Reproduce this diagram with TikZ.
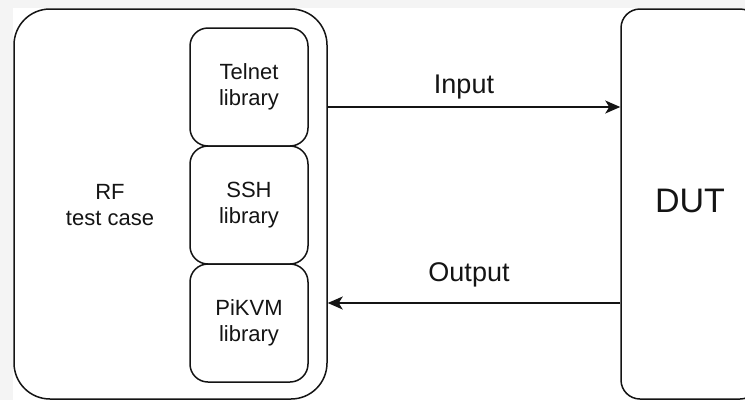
\documentclass[tikz,border=0pt]{standalone}
\usepackage{fontspec}
\setmainfont{Liberation Sans}
\usetikzlibrary{arrows.meta}
\definecolor{pagegray}{RGB}{244,244,244}
\definecolor{ink}{RGB}{20,20,20}
\tikzset{
  box/.style={draw=ink, line width=1.5pt, fill=white, inner sep=0pt},
  libbox/.style={box, rounded corners=18pt, minimum width=118pt, minimum height=118pt,
    align=center, font=\fontsize{22}{26}\selectfont, text=ink},
  txt/.style={align=center, text=ink, inner sep=0pt},
  flow/.style={draw=ink, line width=1.5pt, -{Stealth[length=15pt, width=13pt, inset=4pt]}},
  flowlabel/.style={txt, font=\fontsize{27}{32}\selectfont, anchor=base},
}
\begin{document}
\begin{tikzpicture}[x=1pt, y=-1pt]
  \useasboundingbox (0,0) rectangle (745,400);
  \clip (0,0) rectangle (745,400);
  % page background
  \fill[pagegray] (0,0) rectangle (745,400);
  \fill[white] (13,8) rectangle (745,400);

  % test case container and its libraries
  \node[box, rounded corners=36pt, minimum width=313pt, minimum height=390pt] (rf) at (170.5,204) {};
  \node[txt, font=\fontsize{22}{26}\selectfont] (rflabel) at (110,205) {RF\\test case};
  \node[libbox] (telnet) at (249,87) {Telnet\\library};
  \node[libbox] (ssh) at (249,205) {SSH\\library};
  \node[libbox] (pikvm) at (249,323) {PiKVM\\library};

  % device under test
  \node[box, rounded corners=19pt, minimum width=138pt, minimum height=390pt] (dut) at (690,204) {};
  \node[txt, font=\fontsize{34}{40}\selectfont] (dutlabel) at (690,201) {DUT};

  % rows of the two connectors
  \coordinate (inrow) at (0,107);
  \coordinate (outrow) at (0,303);

  \draw[flow] (rf.east |- inrow) -- (dut.west |- inrow);
  \draw[flow] (dut.west |- outrow) -- (rf.east |- outrow);

  \node[flowlabel] (inlabel) at (464,93) {Input};
  \node[flowlabel] (outlabel) at (469,281) {Output};
\end{tikzpicture}
\end{document}
